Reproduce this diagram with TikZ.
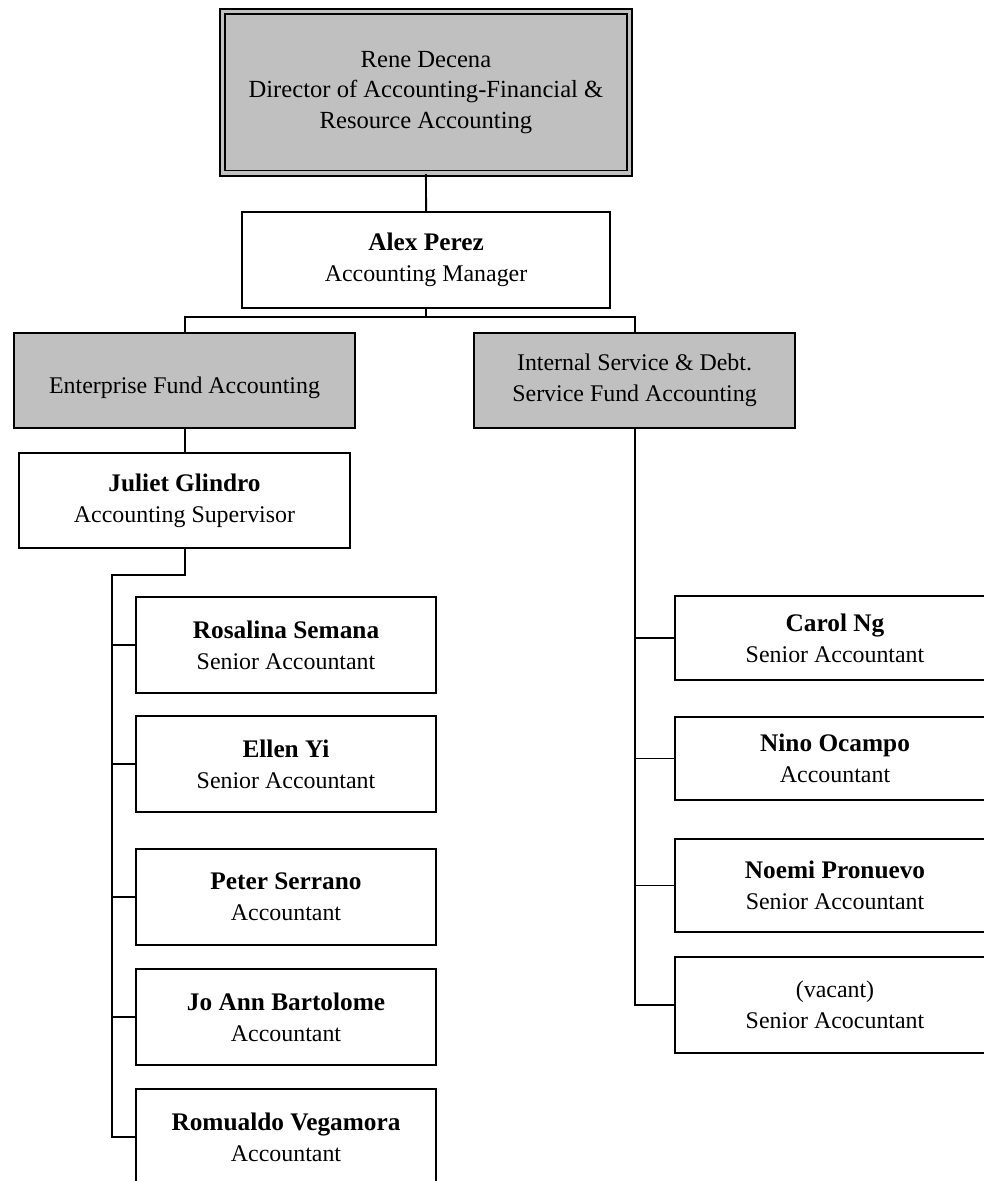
\documentclass[tikz,border=0pt]{standalone}
\usepackage{fontspec}
\setmainfont{Liberation Serif}
\usepackage{tikz}
\usetikzlibrary{positioning, calc}
\usepackage{xcolor}
\definecolor{boxGray}{HTML}{C0C0C0}
\tikzset{
    person/.style={rectangle, draw=black, fill=white, line width=1.4pt, align=center, anchor=north west, inner sep=0pt, font=\fontsize{17}{22}\selectfont},
    unit/.style={person, fill=boxGray},
    head/.style={unit, double=boxGray, double distance=2.5pt, line width=1.3pt, font=\fontsize{17.5}{21.5}\selectfont},
    link/.style={draw=black, line width=1.4pt},
}
\newcommand{\who}[1]{{\fontsize{18}{22}\selectfont\bfseries #1}}

\begin{document}
\begin{tikzpicture}[x=0.025cm, y=-0.025cm]
    \path[use as bounding box, clip] (0,0) rectangle (984,1181);

    % Top of the chart
    \node[head, minimum width=10.165cm, minimum height=4.04cm] (rene) at (221.7,10.7) {Rene Decena\\Director of Accounting-Financial \&\\Resource Accounting};
    \node[person, minimum width=9.2cm, minimum height=2.4cm] (alex) at (241,211) {\who{Alex Perez}\\Accounting Manager};

    % Units
    \node[unit, minimum width=8.525cm, minimum height=2.375cm] (efa) at (13,332) {\mbox{}\\Enterprise Fund Accounting};
    \node[unit, minimum width=8.025cm, minimum height=2.375cm] (isf) at (473,332) {Internal Service \& Debt.\\Service Fund Accounting};
    \node[person, minimum width=8.275cm, minimum height=2.375cm] (juliet) at (18,452) {\who{Juliet Glindro}\\Accounting Supervisor};

    % Left column
    \node[person, minimum width=7.5cm, minimum height=2.4cm] (rosalina) at (135,596) {\who{Rosalina Semana}\\Senior Accountant};
    \node[person, minimum width=7.5cm, minimum height=2.4cm] (ellen) at (135,715) {\who{Ellen Yi}\\Senior Accountant};
    \node[person, minimum width=7.5cm, minimum height=2.4cm] (peter) at (135,848) {\who{Peter Serrano}\\Accountant};
    \node[person, minimum width=7.5cm, minimum height=2.4cm] (joann) at (135,968) {\who{Jo Ann Bartolome}\\Accountant};
    \node[person, minimum width=7.5cm, minimum height=2.4cm] (romualdo) at (135,1088) {\who{Romualdo Vegamora}\\Accountant};

    % Right column
    \node[person, minimum width=8cm, minimum height=2.1cm] (carol) at (674,595) {\who{Carol Ng}\\Senior Accountant};
    \node[person, minimum width=8cm, minimum height=2.075cm] (nino) at (674,716) {\who{Nino Ocampo}\\Accountant};
    \node[person, minimum width=8cm, minimum height=2.325cm] (noemi) at (674,838) {\who{Noemi Pronuevo}\\Senior Accountant};
    \node[person, minimum width=8cm, minimum height=2.4cm] (vacant) at (674,956) {(vacant)\\Senior Acocuntant};

    \coordinate (ltop) at (112,575);

    % Edges
    \draw[link] (rene.south) -- (alex.north);
    \draw[link] (alex.south) -- ++(0,8) -| (efa.north);
    \draw[link] (alex.south) -- ++(0,8) -| (isf.north);
    \draw[link] (efa.south) -- (efa.south |- juliet.north);
    \draw[link] (juliet.south) |- (ltop) |- (romualdo.west);
    \foreach \n in {rosalina, ellen, peter, joann}
        \draw[link] (\n.west) -- (\n.west -| ltop);
    \draw[link] (isf.south) |- (vacant.west);
    \foreach \n in {carol, nino, noemi}
        \draw[link] (\n.west) -- (\n.west -| isf.south);
\end{tikzpicture}
\end{document}
